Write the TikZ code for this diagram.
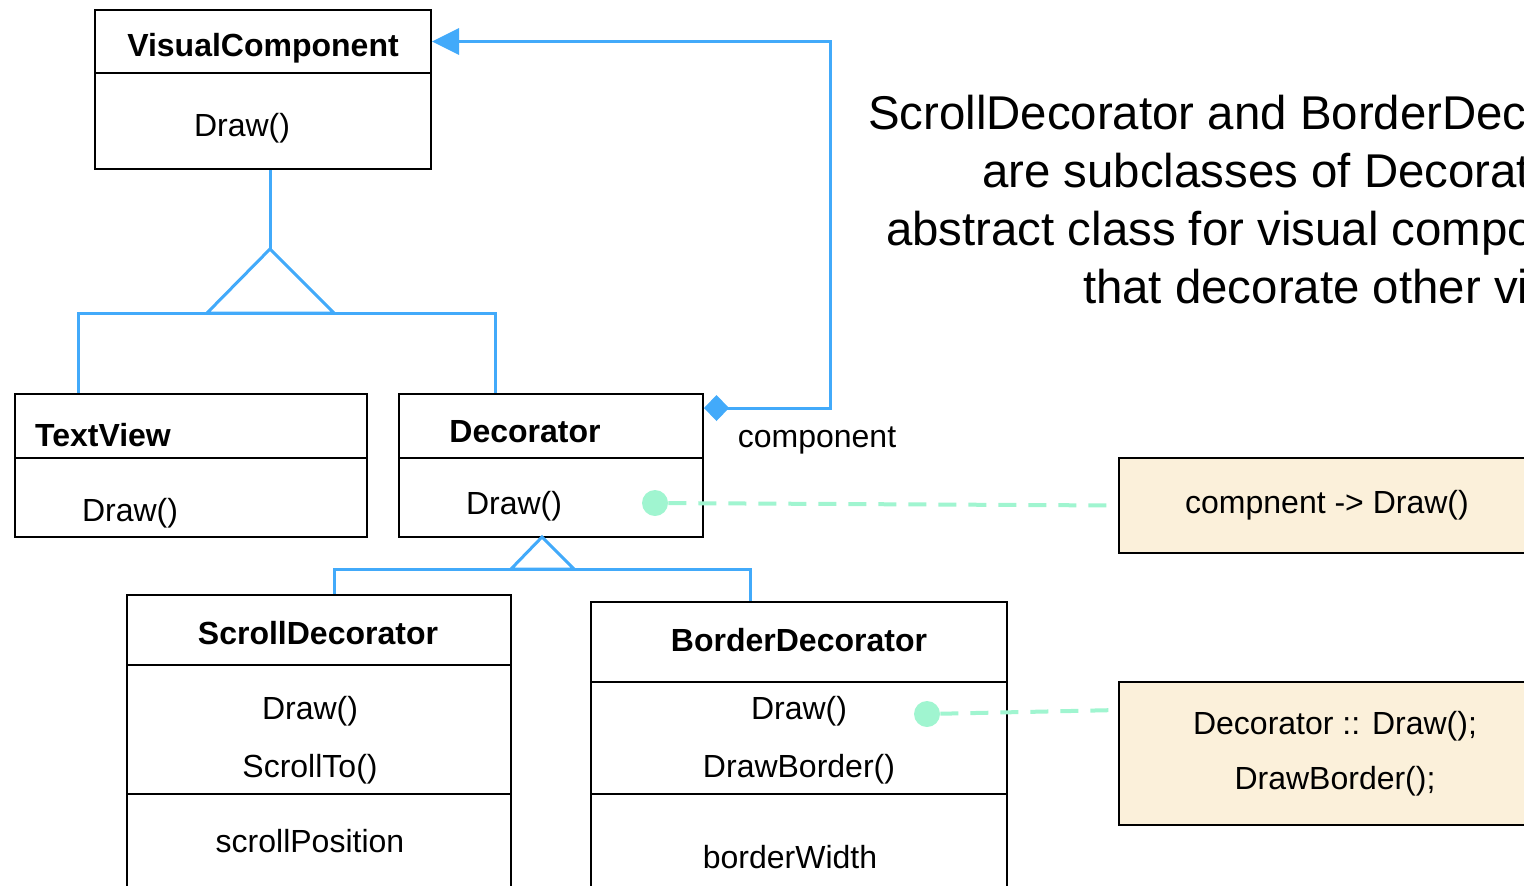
\documentclass[tikz,border=0pt]{standalone}
\usepackage{fontspec}
\setmainfont{Liberation Sans}
\usetikzlibrary{arrows.meta,fit}

\definecolor{umlblue}{RGB}{66,170,250}
\definecolor{linkgreen}{RGB}{160,245,208}
\definecolor{notefill}{RGB}{251,240,218}

\tikzset{
  classbox/.style={draw, line width=1pt, inner sep=0pt},
  classname/.style={font=\fontsize{16}{19}\selectfont\bfseries},
  gen/.style={draw=umlblue, line width=1.5pt},
  notebox/.style={draw, line width=1pt, fill=notefill, inner sep=0pt, align=center},
  notelink/.style={draw=linkgreen, line width=2pt, dash pattern=on 9pt off 6pt},
  linkdot/.style={circle, fill=linkgreen, inner sep=0pt, minimum size=13pt},
  remark/.style={anchor=base west, font=\fontsize{23.7}{28}\selectfont},
}

\begin{document}
\begin{tikzpicture}[x=0.5pt, y=-0.5pt, font=\fontsize{16}{19}\selectfont]
  \useasboundingbox (0,0) rectangle (1524,885);
  \clip (0,0) rectangle (1524,885);

  % VisualComponent
  \node[classbox, fit={(95,10) (431,73)}] (vcHead) {};
  \node[classbox, fit={(95,73) (431,169)}] (vcBody) {};
  \node[classname] (vcName) at (263,48) {VisualComponent};
  \node (vcDraw) at (242,128) {Draw()};

  % TextView
  \node[classbox, fit={(15,394) (367,458)}] (tvHead) {};
  \node[classbox, fit={(15,458) (367,537)}] (tvBody) {};
  \node[classname] (tvName) at (103,435) {TextView};
  \node (tvDraw) at (130,513) {Draw()};

  % Decorator
  \node[classbox, fit={(399,394) (703,458)}] (decHead) {};
  \node[classbox, fit={(399,458) (703,537)}] (decBody) {};
  \node[classname] (decName) at (525,432) {Decorator};
  \node (decDraw) at (514,506) {Draw()};

  % ScrollDecorator
  \node[classbox, fit={(127,595) (511,665)}] (scHead) {};
  \node[classbox, fit={(127,665) (511,794)}] (scOps) {};
  \node[classbox, fit={(127,794) (511,900)}] (scAttr) {};
  \node[classname] (scName) at (318,633) {ScrollDecorator};
  \node (scDraw) at (310,711) {Draw()};
  \node (scScroll) at (310,769) {ScrollTo()};
  \node (scPos) at (310,841) {scrollPosition};

  % BorderDecorator
  \node[classbox, fit={(591,602) (1007,682)}] (bdHead) {};
  \node[classbox, fit={(591,682) (1007,794)}] (bdOps) {};
  \node[classbox, fit={(591,794) (1007,900)}] (bdAttr) {};
  \node[classname] (bdName) at (799,640) {BorderDecorator};
  \node (bdDraw) at (799,711) {Draw()};
  \node (bdBorder) at (799,769) {DrawBorder()};
  \node (bdWidth) at (790,857) {borderWidth};

  % generalization: VisualComponent <- TextView, Decorator
  \coordinate (gen1) at (270,249);
  \coordinate (bar1L) at (78,313);
  \coordinate (bar1R) at (495,313);
  \draw[gen] (gen1 |- vcBody.south) -- (gen1);
  \draw[gen] (gen1) -- ++(-63,64) -- ++(127,0) -- cycle;
  \draw[gen] (bar1L |- tvHead.north) -- (bar1L) -- (bar1R) -- (bar1R |- decHead.north);

  % generalization: Decorator <- ScrollDecorator, BorderDecorator
  \coordinate (gen2) at (542,537);
  \coordinate (bar2L) at (334,569);
  \coordinate (bar2R) at (750,569);
  \draw[gen] (gen2) -- ++(-31,32) -- ++(63,0) -- cycle;
  \draw[gen] (bar2L |- scHead.north) -- (bar2L) -- (bar2R) -- (bar2R |- bdHead.north);

  % aggregation Decorator -> VisualComponent
  \coordinate (aggTurn) at (830,41.5);
  \draw[gen, {Diamond[length=12.5pt,width=13pt]}-{Triangle[length=13.5pt,width=13pt]}]
    ([yshift=-7.5pt]decHead.north east) -| (aggTurn) -- (vcHead.east);
  \node (aggLabel) at (817,440) {component};

  % implementation notes
  \node[notebox, minimum width=208pt, minimum height=47.5pt] (note1) at (1327,505.5) {compnent -> Draw()};
  \node[notebox, minimum width=216pt, minimum height=71.5pt, font=\fontsize{16}{29}\selectfont]
    (note2) at (1335,753.5) {\raisebox{-1.5pt}{Decorator :: Draw();}\\DrawBorder();};
  \node[linkdot] (decDot) at (655,503) {};
  \node[linkdot] (bdDot) at (927,714) {};
  \draw[notelink] (decDot) -- (note1.west);
  \draw[notelink] (bdDot) -- ([yshift=-14.5pt]note2.north west);

  % remark text
  \foreach \xs/\yb/\txt [count=\i] in {
      861/129/{ScrollDecorator and BorderDecorator},
      975/187/{are subclasses of Decorator, an},
      879/245/{abstract class for visual components},
      1076/303/{that decorate other visual components.}}
    \node[remark] (remark\i) at (\xs,\yb) {\txt};
\end{tikzpicture}
\end{document}
